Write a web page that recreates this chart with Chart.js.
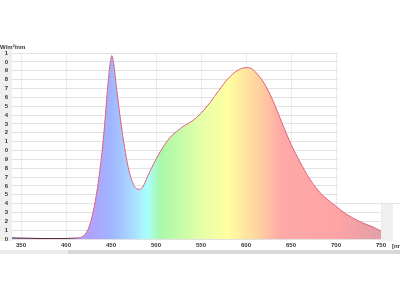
<!DOCTYPE html>
<html>
<head>
<meta charset="utf-8">
<script src="https://cdn.jsdelivr.net/npm/chart.js@4.4.0/dist/chart.umd.min.js"></script>
<style>
  html, body { margin: 0; padding: 0; background: #fff; }
  #wrap { width: 400px; height: 300px; }
</style>
</head>
<body>
<div id="wrap"><canvas id="grafico" width="400" height="300"></canvas></div>
<script>
const comprimentos = [340, 350, 360, 370, 380, 390, 400, 405, 410, 415, 420, 425, 430, 435, 440, 443, 446, 449, 451, 453, 456, 459, 462, 466, 470, 474, 478, 482, 486, 490, 495, 500, 505, 510, 515, 520, 525, 530, 540, 550, 560, 570, 580, 590, 600, 605, 610, 620, 630, 640, 650, 660, 670, 680, 690, 700, 710, 720, 730, 740, 750];
const irradiancia = [0.012, 0.01, 0.008, 0.006, 0.005, 0.005, 0.006, 0.008, 0.01, 0.015, 0.04, 0.12, 0.3, 0.58, 0.98, 1.3, 1.68, 1.98, 2.07, 1.98, 1.72, 1.47, 1.24, 0.98, 0.77, 0.64, 0.57, 0.56, 0.6, 0.69, 0.8, 0.9, 0.99, 1.07, 1.14, 1.19, 1.23, 1.27, 1.33, 1.42, 1.54, 1.68, 1.81, 1.9, 1.935, 1.93, 1.89, 1.76, 1.56, 1.31, 1.07, 0.87, 0.69, 0.55, 0.45, 0.37, 0.29, 0.23, 0.18, 0.14, 0.09];

const xTicks = [350, 400, 450, 500, 550, 600, 650, 700, 750];
const yTicks = [0, 0.1, 0.2, 0.3, 0.4, 0.5, 0.6, 0.7, 0.8, 0.9, 1.0, 1.1, 1.2, 1.3, 1.4, 1.5, 1.6, 1.7, 1.8, 1.9, 2.0, 2.1];
// só o último dígito aparece na imagem (rótulos cortados)
const yTickLabels = ["0", "1", "2", "3", "4", "5", "6", "7", "8", "9", "0", "1", "2", "3", "4", "5", "6", "7", "8", "9", "0", "1"];

// cores do espectro (comprimento de onda -> cor)
const coresEspectro = [
    [380, "#b0a0ff"], [425, "#b0a0ff"], [450, "#a0b4ff"], [470, "#a8d4ff"],
    [490, "#a8ffff"], [505, "#a8f8a8"], [550, "#e4ffa8"], [580, "#ffffa0"],
    [615, "#ffd0a0"], [640, "#ffa8a8"], [700, "#ffa4a4"], [750, "#e0a0a8"]
];

const fonte = { family: "Liberation Sans", size: 6, weight: "bold" };

function gradienteX(chart, paradas) {
    const area = chart.chartArea;
    if (!area) return null;
    const xs = chart.scales.x;
    const x0 = xs.getPixelForValue(340), x1 = xs.getPixelForValue(760);
    const g = chart.ctx.createLinearGradient(x0, 0, x1, 0);
    paradas.forEach(([l, c]) => g.addColorStop((l - 340) / 420, c));
    return g;
}

const decoracao = {
    id: "decoracao",
    beforeDraw(chart) {
        const c = chart.ctx, a = chart.chartArea;
        c.save();
        c.fillStyle = "#efefef";
        c.fillRect(0, a.top - 4, a.left, a.bottom - a.top + 6);
        c.fillRect(a.right, 203, 12, a.bottom - 203 + 2);
        c.fillStyle = "#ececec";
        c.fillRect(0, 250, 68, 4);
        c.fillStyle = "#d8d8d8";
        c.fillRect(68, 250, 332, 4);
        c.restore();
    },
    beforeDatasetsDraw(chart) {
        const c = chart.ctx, a = chart.chartArea;
        c.save();
        c.fillStyle = "#ffffff";
        c.fillRect(338, a.top - 2, 62, 203 - a.top + 1);
        c.strokeStyle = "#e4e4e4";
        c.lineWidth = 1;
        c.beginPath();
        c.moveTo(338, 203.5);
        c.lineTo(400, 203.5);
        c.stroke();
        c.restore();
    },
    afterDraw(chart) {
        const c = chart.ctx, a = chart.chartArea;
        c.save();
        c.fillStyle = "#333";
        c.font = "bold 6px 'Liberation Sans'";
        c.textBaseline = "middle";
        c.fillText("W/m²/nm", 0, a.top - 6);
        c.fillText("[nm]", a.right + 11, a.bottom + 7);
        c.restore();
    }
};

new Chart(document.getElementById("grafico"), {
    type: "line",
    data: {
        datasets: [{
            label: "Irradiância",
            data: comprimentos.map((l, i) => ({ x: l, y: irradiancia[i] })),
            borderColor: ctx => gradienteX(ctx.chart, [[340, "#502030"], [405, "#602838"], [418, "#e0607a"], [760, "#e0607a"]]),
            backgroundColor: ctx => gradienteX(ctx.chart, coresEspectro),
            borderWidth: 1,
            fill: "origin",
            pointRadius: 0,
            cubicInterpolationMode: "monotone"
        }]
    },
    options: {
        responsive: false,
        animation: false,
        layout: { padding: { left: 0, right: 19, top: 53, bottom: 49 } },
        scales: {
            x: {
                type: "linear",
                min: 340,
                max: 750,
                afterBuildTicks: s => { s.ticks = xTicks.map(v => ({ value: v })); },
                afterFit: s => { s.height = 12; },
                grid: { color: "#ececec", drawTicks: false },
                border: { display: false },
                ticks: { font: fonte, color: "#333", padding: 3, maxRotation: 0, autoSkip: false }
            },
            y: {
                min: 0,
                max: 2.1,
                afterBuildTicks: s => { s.ticks = yTicks.map(v => ({ value: v })); },
                afterFit: s => { s.width = 12; },
                grid: { color: "#e2e2e2", drawTicks: false },
                border: { display: false },
                ticks: {
                    font: fonte, color: "#333", padding: 4, autoSkip: false,
                    callback: (v, i) => yTickLabels[i]
                }
            }
        },
        plugins: {
            legend: { display: false },
            tooltip: { enabled: false }
        }
    },
    plugins: [decoracao]
});
</script>
</body>
</html>
